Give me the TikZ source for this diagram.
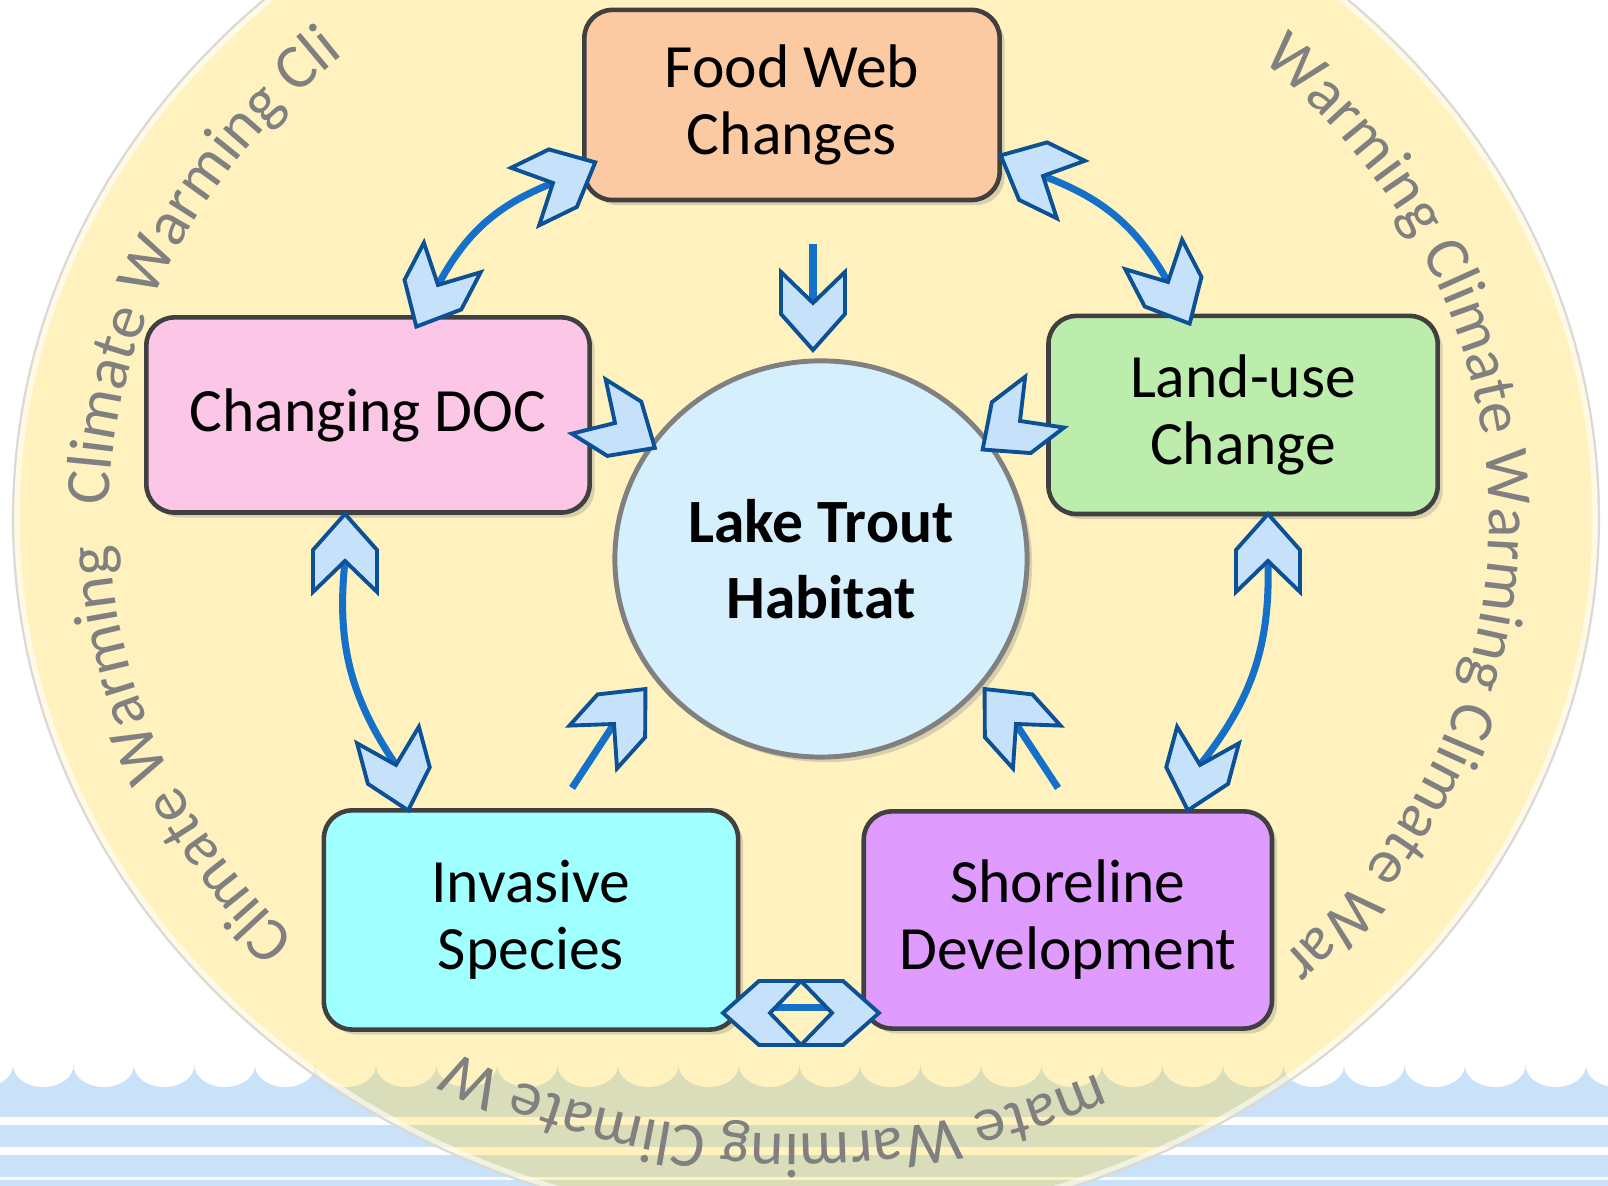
\documentclass[tikz,border=0pt]{standalone}
\usepackage{fontspec}
\setmainfont{Carlito}
\usetikzlibrary{positioning,shapes.geometric,shadows,decorations.text}

\definecolor{ringfill}{RGB}{255,212,40}
\definecolor{ringgray}{RGB}{128,128,128}
\definecolor{wave}{RGB}{201,226,249}
\definecolor{linkblue}{RGB}{20,112,200}
\definecolor{headfill}{RGB}{198,226,251}
\definecolor{headline}{RGB}{12,80,150}
\definecolor{foodfill}{RGB}{251,201,162}
\definecolor{docfill}{RGB}{252,198,230}
\definecolor{landfill}{RGB}{189,237,172}
\definecolor{invfill}{RGB}{160,255,255}
\definecolor{shorefill}{RGB}{224,155,255}
\definecolor{habfill}{RGB}{213,239,252}

\newcommand{\boxfont}{\fontsize{17.5}{19}\selectfont}
\newcommand{\habfont}{\fontsize{17.5}{21.8}\selectfont\bfseries}
\newcommand{\ringfont}{\fontsize{18}{18}\selectfont}

\tikzset{
  factorbox/.style={draw=black!75, line width=1.3pt, rounded corners=0.28cm, align=center, font=\boxfont,
    drop shadow={opacity=0.3, shadow xshift=0.5mm, shadow yshift=-0.5mm}},
  habnode/.style={ellipse, draw=black!50, line width=1.4pt, fill=habfill, minimum width=4.12cm, minimum height=3.96cm,
    inner sep=0pt, align=center, font=\habfont, drop shadow={opacity=0.3, shadow xshift=0.5mm, shadow yshift=-0.5mm}},
  linkline/.style={draw=linkblue, line width=2pt},
  headstyle/.style={fill=headfill, draw=headline, line width=1.1pt, line join=miter},
  chevhead/.pic={\path[headstyle] (-31,32) -- (0,0) -- (-31,-32) -- (11,-32) -- (47,0) -- (11,32) -- cycle;},
  ringtext/.style={decorate, decoration={text along path, text={|\ringfont|#1}, text color=ringgray}}
}

\begin{document}
\begin{tikzpicture}[x=0.01cm, y=0.01cm]
\useasboundingbox (0,0) rectangle (1608,1186);
\clip (0,0) rectangle (1608,1186);
\fill[white] (0,0) rectangle (1608,1186);
% water
\fill[wave] (0,0) rectangle (1608,121);
\foreach \k in {-1,...,26} {
  \fill[white] ({13+60.5*\k},121) arc[start angle=180, end angle=360, x radius=30.25, y radius=22] -- cycle;
}
\fill[white] (0,61) rectangle (1608,69);
\fill[white] (0,31) rectangle (1608,39);
\fill[white] (0,6) rectangle (1608,9);
% climate ring
\coordinate (ringc) at (806,668);
\coordinate (textc) at (799,668);
\fill[ringfill, fill opacity=0.3] (ringc) ellipse [x radius=793, y radius=710];
\draw[white, line width=1.5pt, opacity=0.6] (ringc) ellipse [x radius=789, y radius=706];
\draw[black!15, line width=0.6pt] (ringc) ellipse [x radius=793, y radius=710];
\path[ringtext={Climate Warming Cli}] ([shift={(178.8:690 and 616)}]textc) arc[start angle=178.8, end angle=100, x radius=690, y radius=616];
\path[ringtext={Warming Climate Warming Climate War}] ([shift={(48:690 and 616)}]textc) arc[start angle=48, end angle=-70, x radius=690, y radius=616];
\path[ringtext={mate Warming Climate W}] ([shift={(-64.3:690 and 616)}]textc) arc[start angle=-64.3, end angle=-140, x radius=690, y radius=616];
\path[ringtext={Climate Warming}] ([shift={(223.2:690 and 616)}]textc) arc[start angle=223.2, end angle=170, x radius=690, y radius=616];
% factors
\node[factorbox, fill=foodfill, minimum width=4.15cm, minimum height=1.90cm] (food) at (792,1081) {Food Web\\Changes};
\node[factorbox, fill=docfill, minimum width=4.43cm, minimum height=1.95cm] (doc) at (368,771) {Changing DOC};
\node[factorbox, fill=landfill, minimum width=3.89cm, minimum height=1.98cm, right=4.54cm of doc] (land) {Land-use\\Change};
\node[factorbox, fill=invfill, minimum width=4.14cm, minimum height=2.19cm] (inv) at (531,266) {Invasive\\Species};
\node[factorbox, fill=shorefill, minimum width=4.08cm, minimum height=2.17cm, right=1.21cm of inv] (shore) {Shoreline\\Development};
\node[habnode] (hab) at (821,627) {Lake Trout\\Habitat};
% arrow ends
\coordinate (fdA) at (553,1003);
\coordinate (dfA) at (438,901);
\coordinate (flB) at (1043,1010);
\coordinate (lfB) at (1168,904);
\coordinate (diC) at (345,625);
\coordinate (idC) at (396,421);
\coordinate (lsD) at (1268,625);
\coordinate (slD) at (1200,421);
\coordinate (fhS) at (813,942);
\coordinate (fhE) at (813,883);
\coordinate (dhE) at (615,763);
\coordinate (lhE) at (1020,765);
\coordinate (ihS) at (572,398);
\coordinate (ihE) at (614,462);
\coordinate (shS) at (1058,398);
\coordinate (shE) at (1016,462);
\coordinate (isL) at (770,173);
\coordinate (isR) at (832,173);
% links
\draw[linkline] (dfA) to[bend left=20] (fdA);
\draw[linkline] (flB) to[bend left=20] (lfB);
\draw[linkline] (diC) to[bend right=20] (idC);
\draw[linkline] (lsD) to[bend left=20] (slD);
\draw[linkline] (fhS) -- (fhE);
\draw[linkline] (ihS) -- (ihE);
\draw[linkline] (shS) -- (shE);
\draw[linkline] ([yshift=0.05cm]isL) -- ([yshift=0.05cm]isR);
% heads
\pic[rotate=26] at (fdA) {chevhead};
\pic[rotate=242.5] at (dfA) {chevhead};
\pic[rotate=154] at (flB) {chevhead};
\pic[rotate=-62.5] at (lfB) {chevhead};
\pic[rotate=90] at (diC) {chevhead};
\pic[rotate=-75] at (idC) {chevhead};
\pic[rotate=90] at (lsD) {chevhead};
\pic[rotate=-105] at (slD) {chevhead};
\pic[rotate=-90] at (fhE) {chevhead};
\pic[rotate=-32] at (dhE) {chevhead};
\pic[rotate=217.4] at (lhE) {chevhead};
\pic[rotate=48] at (ihE) {chevhead};
\pic[rotate=132] at (shE) {chevhead};
\pic[rotate=180] at (isL) {chevhead};
\pic[rotate=0] at (isR) {chevhead};
\end{tikzpicture}
\end{document}
